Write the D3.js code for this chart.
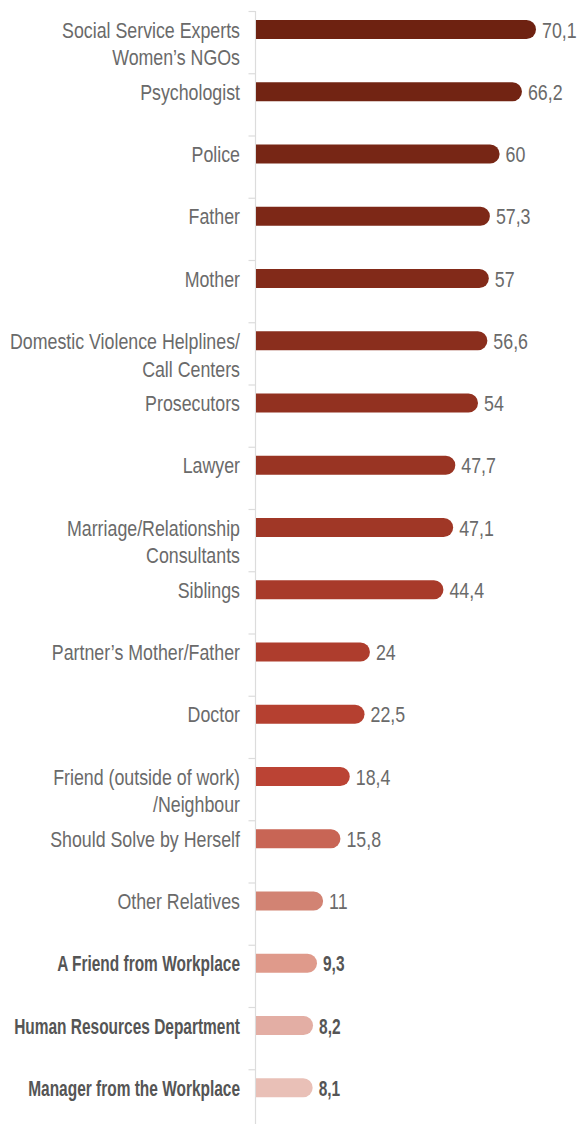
<!DOCTYPE html>
<html>
<head>
<meta charset="utf-8">
<script src="https://cdn.jsdelivr.net/npm/d3@7"></script>
<style>
  body { margin: 0; background: #fff; }
</style>
</head>
<body>
<div id="container"></div>
<script>
let w = 587;
let h = 1124;

// DATA
let categories = [
  ["Social Service Experts", "Women\u2019s NGOs"],
  ["Psychologist"],
  ["Police"],
  ["Father"],
  ["Mother"],
  ["Domestic Violence Helplines/", "Call Centers"],
  ["Prosecutors"],
  ["Lawyer"],
  ["Marriage/Relationship", "Consultants"],
  ["Siblings"],
  ["Partner\u2019s Mother/Father"],
  ["Doctor"],
  ["Friend (outside of work)", "/Neighbour"],
  ["Should Solve by Herself"],
  ["Other Relatives"],
  ["A Friend from Workplace"],
  ["Human Resources Department"],
  ["Manager from the Workplace"]
];
let values = [70.1, 66.2, 60, 57.3, 57, 56.6, 54, 47.7, 47.1, 44.4, 24, 22.5, 18.4, 15.8, 11, 9.3, 8.2, 8.1];
let valueLabels = ["70,1", "66,2", "60", "57,3", "57", "56,6", "54", "47,7", "47,1", "44,4", "24", "22,5", "18,4", "15,8", "11", "9,3", "8,2", "8,1"];
let boldRows = [15, 16, 17];

// palette, dark to light
let colors = ["#6e2211", "#722413", "#772615", "#7d2817", "#822a19", "#8a2e1d", "#923120", "#993423",
              "#a03726", "#a83a2a", "#ae3d2d", "#b54030", "#bb4334", "#c86555", "#d28373", "#df9a8b",
              "#e3aea4", "#e9c0b7"];

let axisX = 255.5;
let labelX = 240;
let fontFamily = "'Liberation Sans', Arial, sans-serif";
let fontSize = 22;

let viz = d3.select("#container").append("svg")
    .attr("width", w)
    .attr("height", h)
;

let keys = categories.map(function(d, i) { return i; });

let y = d3.scaleBand()
    .domain(keys)
    .range([11, 11 + 62.25 * keys.length])
    .padding(0)
;

let x = d3.scaleLinear()
    .domain([0, 70.1])
    .range([axisX + 28, axisX + 280.5])
;

let barH = 19;
let barOffset = 9;

// the original uses a condensed face; squeeze the regular one to the same widths
function measure(str, weight) {
  let t = viz.append("text")
      .attr("font-family", fontFamily)
      .attr("font-size", fontSize)
      .attr("font-weight", weight)
      .text(str);
  let len = t.node().getComputedTextLength();
  t.remove();
  return len;
}
let squeezeNormal = 178 / measure("Social Service Experts", "normal");
let squeezeBold = 226 / measure("Human Resources Department", "bold");

function squeeze(d) { return boldRows.includes(d) ? squeezeBold : squeezeNormal; }

// axis line + ticks at band boundaries
viz.append("line")
    .attr("x1", axisX).attr("x2", axisX)
    .attr("y1", 11).attr("y2", h)
    .attr("stroke", "#dcdcdc")
    .attr("stroke-width", 1.2)
;
viz.selectAll(".tick").data(keys).enter()
  .append("line")
    .attr("class", "tick")
    .attr("x1", axisX - 7).attr("x2", axisX)
    .attr("y1", function(d) { return y(d) + 0.5; })
    .attr("y2", function(d) { return y(d) + 0.5; })
    .attr("stroke", "#dcdcdc")
    .attr("stroke-width", 1.2)
;

// bars: flat left end, round right end
function barPath(d) {
  let x0 = axisX + 0.5;
  let x1 = x(values[d]);
  let y0 = y(d) + barOffset;
  let r = barH / 2;
  return "M" + x0 + "," + y0 +
    "H" + (x1 - r) +
    "A" + r + "," + r + " 0 0 1 " + (x1 - r) + "," + (y0 + barH) +
    "H" + x0 + "Z";
}

viz.selectAll(".bar").data(keys).enter()
  .append("path")
    .attr("class", "bar")
    .attr("d", barPath)
    .attr("fill", function(d) { return colors[d]; })
;

// category labels
let labels = viz.selectAll(".label").data(keys).enter()
  .append("text")
    .attr("class", "label")
    .attr("transform", function(d) {
      return "translate(" + labelX + "," + (y(d) + barOffset + barH / 2 + 8) + ") scale(" + squeeze(d) + ",1)";
    })
    .attr("text-anchor", "end")
    .attr("font-family", fontFamily)
    .attr("font-size", fontSize)
    .attr("font-weight", function(d) { return boldRows.includes(d) ? "bold" : "normal"; })
    .attr("fill", function(d) { return boldRows.includes(d) ? "#555" : "#6a6a6a"; })
;
labels.selectAll("tspan")
    .data(function(d) { return categories[d]; })
    .enter()
  .append("tspan")
    .attr("x", 0)
    .attr("y", function(d, i) { return i * 28; })
    .text(function(d) { return d; })
;

// value labels
viz.selectAll(".value").data(keys).enter()
  .append("text")
    .attr("class", "value")
    .attr("transform", function(d) {
      return "translate(" + (x(values[d]) + 6) + "," + (y(d) + barOffset + barH / 2 + 8) + ") scale(" + squeeze(d) + ",1)";
    })
    .attr("font-family", fontFamily)
    .attr("font-size", fontSize)
    .attr("font-weight", function(d) { return boldRows.includes(d) ? "bold" : "normal"; })
    .attr("fill", function(d) { return boldRows.includes(d) ? "#555" : "#6a6a6a"; })
    .text(function(d) { return valueLabels[d]; })
;
</script>
</body>
</html>
